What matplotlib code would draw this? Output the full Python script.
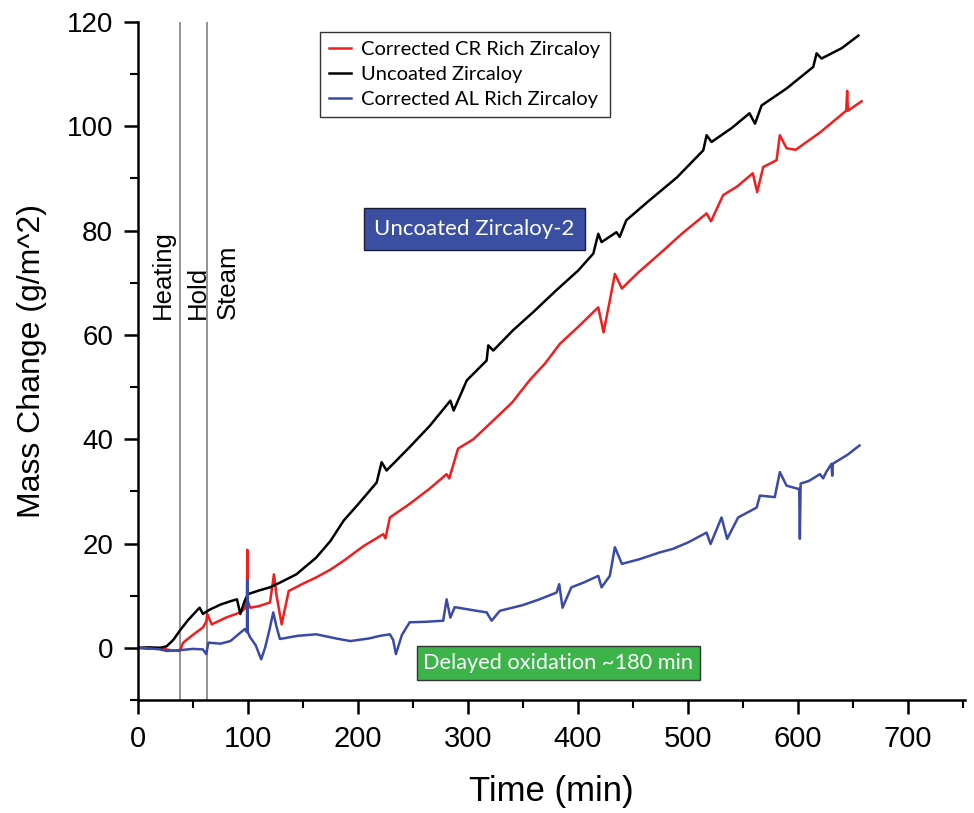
import numpy as np
import matplotlib
matplotlib.use('Agg')
import matplotlib.pyplot as plt
from matplotlib.ticker import MultipleLocator

# uncoated zircaloy (black)
black_t = [0, 10, 20, 26, 32, 38, 45, 52, 56, 59, 65, 75, 85, 90, 93, 97, 100, 110, 120, 129,
           144, 162, 175, 187, 200, 217, 221.5, 226, 247, 265, 284, 287, 299, 317, 318.5, 323,
           341, 360, 380, 400, 414, 418.5, 421.5, 435, 438, 444, 465, 490, 514, 517, 521.5,
           540, 556, 561, 567, 590, 614, 617, 621.5, 640, 655]
black_v = [0, 0.1, 0, 0.3, 1.5, 3.3, 5.2, 6.8, 7.7, 6.5, 7.3, 8.3, 9, 9.3, 6.5, 9, 10.3, 11, 11.6, 12.5,
           14.1, 17.3, 20.5, 24.4, 27.5, 31.7, 35.6, 34, 38.5, 42.5, 47.4, 45.5, 51.3, 55.1, 58, 57,
           60.9, 64.5, 68.5, 72.3, 75.6, 79.4, 77.8, 79.7, 78.8, 82, 85.8, 90.2, 95.4, 98.3, 97,
           99.7, 102.5, 100.5, 104, 107.3, 111.4, 114, 113, 115, 117.4]

# corrected CR rich (red)
red_t = [0, 10, 20, 30, 38, 41, 50, 59, 62, 63, 67, 80, 93, 97, 99, 99.4, 99.8, 102, 110, 120,
         123.6, 126, 130.6, 137, 150, 162, 175, 187, 205, 223, 225, 229, 247, 265, 280.6, 283,
         291, 305, 320, 340, 356, 370, 383.6, 400, 418.5, 423.3, 429, 433.6, 440, 455, 474.5,
         495, 517, 521, 532, 545, 559, 563, 568.5, 580.6, 583.6, 589.7, 598, 620, 644, 644.8,
         645.5, 658]
red_v = [0, -0.2, 0, -0.5, -0.6, 1, 2.5, 3.9, 5, 6.5, 4.5, 5.8, 6.8, 7.5, 9, 18.8, 9, 7.7, 8, 8.7,
         14.1, 10, 4.5, 10.9, 12.3, 13.5, 15, 16.7, 19.5, 21.8, 21, 25, 27.6, 30.5, 33.3, 32.5,
         38.2, 40, 43, 47, 51.3, 54.5, 58.3, 61.5, 65.3, 60.5, 66.6, 71.7, 68.9, 72, 75.6,
         79.5, 83.3, 81.8, 86.8, 88.5, 91, 87.4, 92.2, 93.5, 98.3, 95.8, 95.5, 98.8, 103, 106.8,
         103, 104.8]

# corrected AL rich (blue)
blue_t = [0, 10, 20, 26, 40, 50, 59, 62, 64, 75, 84, 97, 99, 99.4, 99.8, 102, 107, 112, 115.5,
          119, 123, 126, 129, 145, 162, 180, 193, 210, 220, 229, 232, 234.5, 240, 247, 262,
          277.5, 280.6, 284, 288, 291, 305, 317, 321.5, 329, 350, 365, 380.6, 383, 386, 394,
          405, 418.5, 421.5, 429, 433.6, 440, 456, 474.5, 486.7, 500, 517, 520.6, 530.6, 535.7,
          545.7, 562.5, 565.5, 579, 583.6, 589.7, 600, 601.2, 601.8, 602.5, 610, 620, 623, 626,
          630.6, 631.2, 631.8, 645, 656]
blue_v = [0, -0.1, -0.3, -0.6, -0.4, -0.2, -0.3, -1.2, 1, 0.8, 1.3, 3.6, 3.0, 12.9, 3.0, 2, 0.5,
          -2.2, 0, 3, 6.8, 4, 1.7, 2.3, 2.6, 1.8, 1.3, 1.8, 2.3, 2.6, 1.5, -1.2, 2.5, 4.9, 5.0,
          5.2, 9.3, 5.8, 7.8, 7.7, 7.2, 6.8, 5.2, 7.1, 8.2, 9.3, 10.6, 12.2, 7.7, 11.6,
          12.5, 13.8, 11.6, 13.8, 19.3, 16.1, 17, 18.3, 19, 20.2, 22.1, 19.9, 25, 20.9,
          25, 26.9, 29.2, 28.9, 33.7, 31.1, 30.5, 30.5, 20.9, 31.5, 32, 33.3, 32.5, 33.8,
          35.3, 33, 35.3, 37, 38.8]

# stage boundaries (min)
stage_lines = [38, 63]
stage_labels = ['Heating', 'Hold', 'Steam']
stage_label_x = [23, 54, 82]

plt.rcParams['font.family'] = ['Liberation Sans', 'DejaVu Sans']
box_font = ['Lato', 'DejaVu Sans']

fig = plt.figure(figsize=(9.74, 8.13), dpi=100)
ax = fig.add_axes([0.1417, 0.139, 0.8491, 0.8339])

ax.plot(red_t, red_v, color='#f01e1e', lw=1.8, label='Corrected CR Rich Zircaloy')
ax.plot(black_t, black_v, color='black', lw=1.8, label='Uncoated Zircaloy')
ax.plot(blue_t, blue_v, color='#3b4aa6', lw=1.8, label='Corrected AL Rich Zircaloy')

for x in stage_lines:
    ax.axvline(x, color='#8a8a8a', lw=1.3, zorder=0)
for lab, x in zip(stage_labels, stage_label_x):
    ax.text(x, 63, lab, rotation=90, ha='center', va='bottom', fontsize=18.5)

ax.set_xlim(0, 752)
ax.set_ylim(-10, 120)
ax.xaxis.set_major_locator(MultipleLocator(100))
ax.xaxis.set_minor_locator(MultipleLocator(50))
ax.yaxis.set_major_locator(MultipleLocator(20))
ax.yaxis.set_minor_locator(MultipleLocator(10))
ax.spines['top'].set_visible(False)
ax.spines['right'].set_visible(False)
ax.spines['left'].set_linewidth(1.8)
ax.spines['bottom'].set_linewidth(1.8)
ax.tick_params(which='major', direction='out', length=10, width=1.8, labelsize=20, pad=8)
ax.tick_params(which='minor', direction='out', length=6, width=1.5)
ax.tick_params(axis='x', labelsize=21)

ax.set_ylabel('Mass Change (g/m^2)', fontsize=23, labelpad=14)
ax.set_xlabel('Time (min)', fontsize=25, labelpad=16)

leg = ax.legend(loc='upper left', bbox_to_anchor=(0.2201, 0.9853), borderaxespad=0,
                frameon=True, fancybox=False, edgecolor='black', handlelength=1.1,
                handletextpad=0.5, borderpad=0.45, labelspacing=0.38,
                prop={'family': box_font, 'size': 14.5})
leg.get_frame().set_linewidth(1.0)

ax.text(306, 80.3, 'Uncoated Zircaloy-2', fontsize=16, family=box_font, color='white',
        ha='center', va='center',
        bbox=dict(boxstyle='square,pad=0.48', fc='#3b4fa2', ec='#1a1a3a', lw=1))
ax.text(382, -2.9, 'Delayed oxidation ~180 min', fontsize=15.7, family=box_font, color='white',
        ha='center', va='center',
        bbox=dict(boxstyle='square,pad=0.3', fc='#3cb44a', ec='#333333', lw=1))

fig.savefig('out.png', dpi=100)
